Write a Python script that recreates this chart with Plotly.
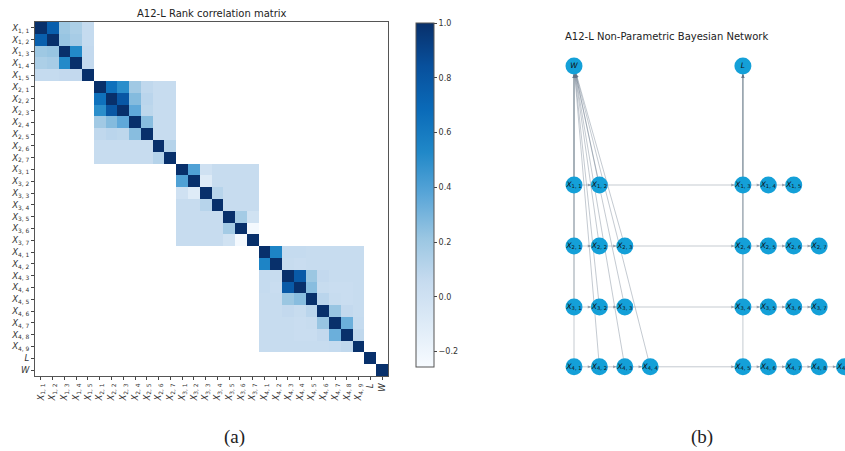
import math
import plotly.graph_objects as go

# ---------------- Data: rank correlation matrix ----------------
labels = (["X_{1,%d}" % j for j in range(1, 6)] + ["X_{2,%d}" % j for j in range(1, 8)]
          + ["X_{3,%d}" % j for j in range(1, 8)] + ["X_{4,%d}" % j for j in range(1, 10)]
          + ["L", "W"])

# upper-triangle rows of each block (diagonal included)
block_x1 = [
    [1.00, 0.75, 0.20, 0.15, 0.06],
    [1.00, 0.22, 0.17, 0.06],
    [1.00, 0.52, 0.07],
    [1.00, 0.07],
    [1.00],
]
block_x2 = [
    [1.00, 0.65, 0.50, 0.19, 0.08, 0.05, 0.05],
    [1.00, 0.80, 0.27, 0.10, 0.05, 0.05],
    [1.00, 0.36, 0.09, 0.05, 0.05],
    [1.00, 0.26, 0.05, 0.05],
    [1.00, 0.05, 0.05],
    [1.00, 0.12],
    [1.00],
]
block_x3 = [
    [1.00, 0.40, 0.00, 0.05, 0.05, 0.05, 0.05],
    [1.00, -0.10, 0.05, 0.05, 0.05, 0.05],
    [1.00, 0.11, 0.05, 0.05, 0.05],
    [1.00, 0.05, 0.05, 0.05],
    [1.00, 0.18, -0.01],
    [1.00, -0.24],
    [1.00],
]
block_x4 = [
    [1.00, 0.55, 0.06, 0.06, 0.05, 0.05, 0.05, 0.05, 0.05],
    [1.00, 0.05, 0.04, 0.05, 0.05, 0.05, 0.05, 0.05],
    [1.00, 0.78, 0.21, 0.07, 0.05, 0.05, 0.05],
    [1.00, 0.26, 0.05, 0.04, 0.04, 0.05],
    [1.00, 0.10, 0.05, 0.04, 0.05],
    [1.00, 0.22, 0.07, 0.05],
    [1.00, 0.33, 0.06],
    [1.00, 0.08],
    [1.00],
]
block_l = [[1.00]]
block_w = [[1.00]]
blocks = [block_x1, block_x2, block_x3, block_x4, block_l, block_w]

zmin, zmax = -0.256, 1.0

N = len(labels)
Z = [[None] * N for _ in range(N)]
off = 0
for b in blocks:
    n = len(b)
    for i, row in enumerate(b):
        for k, v in enumerate(row):
            j = i + k
            Z[off + i][off + j] = v
            Z[off + j][off + i] = v
    off += n


def fmt_label(s):
    if s.startswith("X_"):
        a, b = s[3:-1].split(",")
        return "<i>X</i><sub>%s, %s</sub>" % (a, b)
    return "<i>%s</i>" % s


ticktext = [fmt_label(s) for s in labels]

colorscale = [
    [0.0, "#f7fbff"], [0.125, "#deebf7"], [0.25, "#c6dbef"], [0.375, "#9ac6e2"],
    [0.5, "#5aa6d8"], [0.625, "#2088c8"], [0.75, "#0a6ab8"], [0.875, "#08509c"],
    [1.0, "#08306b"],
]

W_PX, H_PX = 845, 451

fig = go.Figure()
fig.add_trace(go.Heatmap(
    z=Z, x=list(range(N)), y=list(range(N)),
    zmin=zmin, zmax=zmax, colorscale=colorscale, hoverongaps=False,
    xaxis="x", yaxis="y",
    colorbar=dict(
        x=416 / W_PX, xanchor="left", y=1 - 23 / H_PX, yanchor="top",
        len=344 / H_PX, lenmode="fraction", thickness=18, thicknessmode="pixels",
        xpad=0, ypad=0, outlinewidth=1, outlinecolor="#555",
        tickvals=[-0.2, 0.0, 0.2, 0.4, 0.6, 0.8, 1.0],
        ticktext=["\u22120.2", "0.0", "0.2", "0.4", "0.6", "0.8", "1.0"],
        ticks="outside", ticklen=3, tickwidth=0.8, tickcolor="#444",
        tickfont=dict(family="DejaVu Sans", size=8, color="#333"),
    ),
))

# ---------------- Data: Bayesian network ----------------
col_x = [0, 1, 2, 3, 6.65, 7.65, 8.65, 9.65, 10.65]
row_y = [0, 1.97, 2.98, 3.99, 4.98]
node_names = ["W", "L",
              "X_{1,1}", "X_{1,2}", "X_{1,3}", "X_{1,4}", "X_{1,5}",
              "X_{2,1}", "X_{2,2}", "X_{2,3}", "X_{2,4}", "X_{2,5}", "X_{2,6}", "X_{2,7}",
              "X_{3,1}", "X_{3,2}", "X_{3,3}", "X_{3,4}", "X_{3,5}", "X_{3,6}", "X_{3,7}",
              "X_{4,1}", "X_{4,2}", "X_{4,3}", "X_{4,4}", "X_{4,5}", "X_{4,6}", "X_{4,7}", "X_{4,8}", "X_{4,9}"]
node_col = [0, 4,
            0, 1, 4, 5, 6,
            0, 1, 2, 4, 5, 6, 7,
            0, 1, 2, 4, 5, 6, 7,
            0, 1, 2, 3, 4, 5, 6, 7, 8]
node_row = [0, 0,
            1, 1, 1, 1, 1,
            2, 2, 2, 2, 2, 2, 2,
            3, 3, 3, 3, 3, 3, 3,
            4, 4, 4, 4, 4, 4, 4, 4, 4]
edges = [
    ("X_{1,1}", "X_{1,2}"), ("X_{1,2}", "X_{1,3}"), ("X_{1,3}", "X_{1,4}"), ("X_{1,4}", "X_{1,5}"),
    ("X_{2,1}", "X_{2,2}"), ("X_{2,2}", "X_{2,3}"), ("X_{2,3}", "X_{2,4}"), ("X_{2,4}", "X_{2,5}"),
    ("X_{2,5}", "X_{2,6}"), ("X_{2,6}", "X_{2,7}"),
    ("X_{3,1}", "X_{3,2}"), ("X_{3,2}", "X_{3,3}"), ("X_{3,3}", "X_{3,4}"), ("X_{3,4}", "X_{3,5}"),
    ("X_{3,5}", "X_{3,6}"), ("X_{3,6}", "X_{3,7}"),
    ("X_{4,1}", "X_{4,2}"), ("X_{4,2}", "X_{4,3}"), ("X_{4,3}", "X_{4,4}"), ("X_{4,4}", "X_{4,5}"),
    ("X_{4,5}", "X_{4,6}"), ("X_{4,6}", "X_{4,7}"), ("X_{4,7}", "X_{4,8}"), ("X_{4,8}", "X_{4,9}"),
    ("X_{1,1}", "W"), ("X_{1,2}", "W"), ("X_{2,1}", "W"), ("X_{2,2}", "W"), ("X_{2,3}", "W"),
    ("X_{3,1}", "W"), ("X_{3,2}", "W"), ("X_{3,3}", "W"),
    ("X_{4,1}", "W"), ("X_{4,2}", "W"), ("X_{4,3}", "W"), ("X_{4,4}", "W"),
    ("X_{1,3}", "L"), ("X_{2,4}", "L"), ("X_{3,4}", "L"), ("X_{4,5}", "L"),
]

# network axes geometry
X2_DOM = [490 / W_PX, 1.0]
X2_RANGE = [-3.307, 10.669]
Y2_RANGE = [6.374, -1.093]
px_x = (X2_DOM[1] - X2_DOM[0]) * W_PX / (X2_RANGE[1] - X2_RANGE[0])
px_y = H_PX / (Y2_RANGE[0] - Y2_RANGE[1])

pos = {}
for name, c, r in zip(node_names, node_col, node_row):
    pos[name] = (col_x[c], row_y[r])

edge_color = "rgba(100,115,135,0.38)"
for s, t in edges:
    (sx, sy), (tx, ty) = pos[s], pos[t]
    fig.add_trace(go.Scatter(x=[sx, tx], y=[sy, ty], mode="lines",
                             line=dict(color=edge_color, width=1),
                             xaxis="x2", yaxis="y2", hoverinfo="skip", showlegend=False))

annotations = []
NODE_R = 8.5
seen_heads = set()
for s, t in edges:
    (sx, sy), (tx, ty) = pos[s], pos[t]
    dx, dy = (tx - sx) * px_x, (ty - sy) * px_y
    nrm = math.hypot(dx, dy)
    ux, uy = dx / nrm, dy / nrm
    annotations.append(dict(
        x=tx, y=ty, xref="x2", yref="y2", ax=-ux * 12, ay=-uy * 12,
        text="", showarrow=True, arrowhead=2, arrowsize=0.7, arrowwidth=0.9,
        arrowcolor="rgba(100,115,135,0.6)", standoff=NODE_R))

fig.add_trace(go.Scatter(
    x=[pos[n][0] for n in node_names], y=[pos[n][1] for n in node_names],
    mode="markers+text", text=[fmt_label(n) for n in node_names],
    textposition="middle center",
    textfont=dict(family="DejaVu Sans", size=7.5, color="#111"),
    marker=dict(size=17, color="#14a0d8", line=dict(width=0)),
    xaxis="x2", yaxis="y2", hoverinfo="skip", showlegend=False, cliponaxis=False))

# ---------------- Titles and captions ----------------
annotations += [
    dict(text="A12-L Rank correlation matrix", x=212 / W_PX, y=1 - 14 / H_PX, xref="paper", yref="paper",
         showarrow=False, xanchor="center", yanchor="middle",
         font=dict(family="DejaVu Sans", size=10, color="#222")),
    dict(text="A12-L Non-Parametric Bayesian Network", x=563 / W_PX, y=1 - 36 / H_PX, xref="paper", yref="paper",
         showarrow=False, xanchor="left", yanchor="middle",
         font=dict(family="DejaVu Sans", size=10, color="#222")),
    dict(text="(a)", x=235 / W_PX, y=1 - 437 / H_PX, xref="paper", yref="paper",
         showarrow=False, xanchor="center", yanchor="middle",
         font=dict(family="Liberation Serif", size=19, color="#222")),
    dict(text="(b)", x=702 / W_PX, y=1 - 437 / H_PX, xref="paper", yref="paper",
         showarrow=False, xanchor="center", yanchor="middle",
         font=dict(family="Liberation Serif", size=19, color="#222")),
]

axis_common = dict(showgrid=False, zeroline=False, showline=True, mirror=True,
                   linecolor="#555", linewidth=1, ticks="outside", ticklen=3,
                   tickwidth=0.8, tickcolor="#444",
                   tickfont=dict(family="DejaVu Sans", size=8.5, color="#333"))

fig.update_layout(
    width=W_PX, height=H_PX, autosize=False,
    margin=dict(l=0, r=0, t=0, b=0),
    paper_bgcolor="white", plot_bgcolor="white",
    showlegend=False,
    xaxis=dict(domain=[35 / W_PX, 388 / W_PX], range=[-0.5, N - 0.5],
               tickmode="array", tickvals=list(range(N)), ticktext=ticktext, tickangle=-90,
               anchor="y", **axis_common),
    yaxis=dict(domain=[1 - 376 / H_PX, 1 - 22 / H_PX], range=[N - 0.5, -0.5],
               tickmode="array", tickvals=list(range(N)), ticktext=ticktext,
               anchor="x", **axis_common),
    xaxis2=dict(domain=X2_DOM, range=X2_RANGE, visible=False, anchor="y2"),
    yaxis2=dict(domain=[0, 1], range=Y2_RANGE, visible=False, anchor="x2"),
    annotations=annotations,
)

fig.write_html("out.html")
